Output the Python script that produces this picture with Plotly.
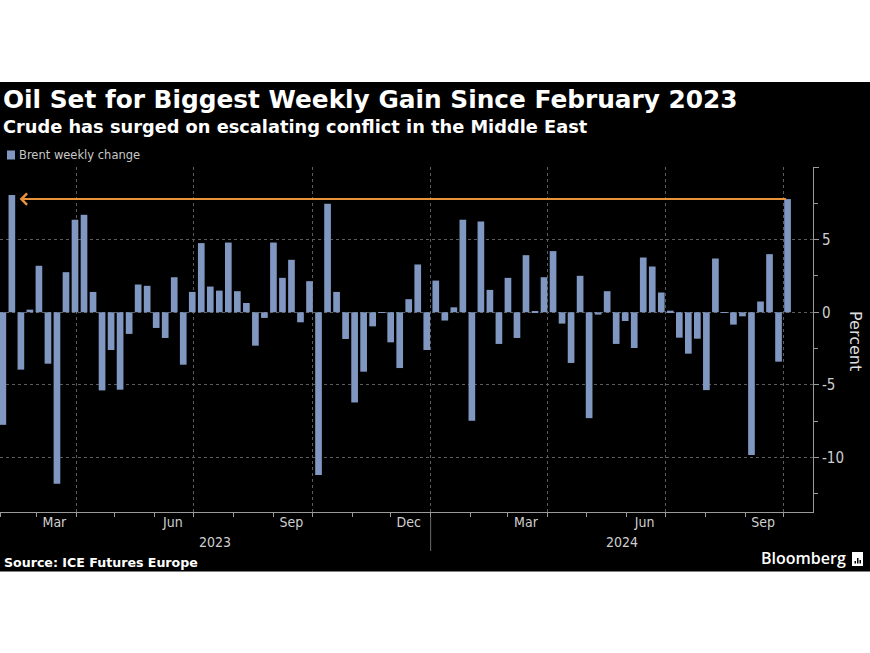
import pandas as pd
import plotly.graph_objects as go

# ---------------- data ----------------
first_week = "2023-02-03"  # week ending (Friday) of first bar
series_name = "Brent weekly change"
brent_weekly_change = [
    -7.75, 8.07, -3.95, 0.18, 3.20, -3.54, -11.80, 2.76, 6.37, 6.71,
    1.40, -5.38, -2.60, -5.33, -1.49, 1.91, 1.82, -1.08, -1.77, 2.41,
    -3.61, 1.40, 4.76, 1.77, 1.49, 4.80, 1.45, 0.64, -2.30, -0.39,
    4.80, 2.37, 3.61, -0.69, 2.14, -11.20, 7.47, 1.40, -1.84, -6.21,
    -4.09, -0.97, -0.05, -2.07, -3.84, 0.90, 3.29, -2.60, 2.18, -0.57,
    0.34, 6.37, -7.47, 6.25, 1.54, -2.18, 2.37, -1.77, 3.93, 0.07,
    2.41, 4.21, -0.78, -3.49, 2.51, -7.29, -0.16, 1.45, -2.18, -0.60,
    -2.46, 3.77, 3.15, 1.36, 0.11, -1.75, -2.85, -1.82, -5.36, 3.70,
    -0.05, -0.85, -0.28, -9.82, 0.74, 4.00, -3.40, 7.79,
]
weeks = pd.date_range(first_week, periods=len(brent_weekly_change), freq="7D")

x_range = ["2023-01-31 19:00", "2024-10-23 18:00"]
quarter_starts = ["2023-04-01", "2023-07-01", "2023-10-01", "2024-01-01",
                  "2024-04-01", "2024-07-01", "2024-10-01"]
month_label_dates = ["2023-03-15", "2023-06-15", "2023-09-15", "2023-12-15",
                     "2024-03-15", "2024-06-15", "2024-09-15"]
month_labels = ["Mar", "Jun", "Sep", "Dec", "Mar", "Jun", "Sep"]
year_labels = ["2023", "2024"]
year_break = "2024-01-01"
y_tickvals = [-10, -5, 0, 5, 10]
y_ticktext = ["-10", "-5", "0", "5", ""]
y_range = [-13.75, 10]

# ---------------- style ----------------
BAR = "#8098c1"
ORANGE = "#e8923a"
GRID = "#5c5c5c"
AXIS = "#9a9a9a"
TICKC = "#cfcfcf"
COND = "DejaVu Sans Condensed, DejaVu Sans, sans-serif"
SANS = "DejaVu Sans, Verdana, sans-serif"

PLOT_W = 813
PLOT_H = 345
TOP = 167


def py(pix):  # paper y from pixel row
    return (TOP + PLOT_H - pix) / PLOT_H


def px(pix):  # paper x from pixel column
    return pix / PLOT_W


fig = go.Figure()
fig.add_trace(go.Bar(
    x=weeks, y=brent_weekly_change, name=series_name,
    marker=dict(color=BAR, line=dict(width=0)),
    showlegend=False, hoverinfo="x+y",
))
# invisible helper so the overlaid label axis is drawn
fig.add_trace(go.Scatter(
    x=[weeks[0]], y=[brent_weekly_change[0]], xaxis="x2", yaxis="y",
    mode="markers", marker=dict(opacity=0), showlegend=False, hoverinfo="skip",
))

last_val = brent_weekly_change[-1]
fig.add_annotation(
    x=weeks[1] + pd.Timedelta(days=6), y=last_val,
    ax=weeks[-1], ay=last_val, axref="x", ayref="y",
    xref="x", yref="y", text="", showarrow=True,
    arrowhead=4, arrowsize=1.1, arrowwidth=2, arrowcolor=ORANGE,
    standoff=0, startstandoff=0,
)

# year labels centred on visible part of each year
r0 = pd.Timestamp(x_range[0]); r1 = pd.Timestamp(x_range[1]); yb = pd.Timestamp(year_break)
for lab, a, b in [(year_labels[0], r0, yb), (year_labels[1], yb, r1)]:
    fig.add_annotation(x=a + (b - a) / 2, y=py(542), xref="x", yref="paper",
                       yanchor="middle", text=lab, showarrow=False,
                       font=dict(family=COND, size=14, color=TICKC))
fig.add_shape(type="line", xref="x", yref="paper", x0=year_break, x1=year_break,
              y0=py(517), y1=py(551), line=dict(color="#6a6a6a", width=1))

# black panel
fig.add_shape(type="rect", xref="paper", yref="paper", x0=-0.02, x1=1.1,
              y0=py(571.5), y1=py(82), fillcolor="black", line=dict(width=0),
              layer="below")

# legend key (swatch + label)
fig.add_shape(type="rect", xref="paper", yref="paper", x0=px(7), x1=px(15),
              y0=py(159.5), y1=py(150.5), fillcolor=BAR, line=dict(width=0))
fig.add_annotation(xref="paper", yref="paper", x=px(17), y=py(155), xanchor="left",
                   yanchor="middle", showarrow=False, text=series_name,
                   font=dict(family=SANS, size=11.5, color="#c8c8c8"))

# titles
fig.add_annotation(xref="paper", yref="paper", x=px(1), y=py(99), xanchor="left",
                   yanchor="middle", showarrow=False,
                   text="<b>Oil Set for Biggest Weekly Gain Since February 2023</b>",
                   font=dict(family=SANS, size=24.8, color="white"))
fig.add_annotation(xref="paper", yref="paper", x=px(1), y=py(126), xanchor="left",
                   yanchor="middle", showarrow=False,
                   text="<b>Crude has surged on escalating conflict in the Middle East</b>",
                   font=dict(family=SANS, size=17.8, color="white"))
fig.add_annotation(xref="paper", yref="paper", x=px(2), y=py(562), xanchor="left",
                   yanchor="middle", showarrow=False,
                   text="<b>Source: ICE Futures Europe</b>",
                   font=dict(family=SANS, size=12.6, color="white"))
fig.add_annotation(xref="paper", yref="paper", x=px(848), y=py(558), xanchor="right",
                   yanchor="middle", showarrow=False, text="Bloomberg",
                   font=dict(family="Open Sans, sans-serif", size=16, color="white",
                             weight=600))
# small logo mark
fig.add_shape(type="rect", xref="paper", yref="paper", x0=px(852), x1=px(863),
              y0=py(566), y1=py(552), fillcolor="white", line=dict(width=0))
for bx0, btop in [(854.5, 561), (857, 558), (859.5, 560)]:
    fig.add_shape(type="rect", xref="paper", yref="paper", x0=px(bx0), x1=px(bx0 + 1.5),
                  y0=py(563.5), y1=py(btop), fillcolor="black", line=dict(width=0))
fig.add_annotation(xref="paper", yref="paper", x=px(856), y=py(341), xanchor="center",
                   yanchor="middle", showarrow=False, text="Percent", textangle=90,
                   font=dict(family=SANS, size=16, color="#dddddd"))

fig.update_layout(
    width=870, height=653,
    margin=dict(l=0, r=870 - PLOT_W, t=TOP, b=653 - TOP - PLOT_H, pad=0,
                autoexpand=False),
    paper_bgcolor="white", plot_bgcolor="black",
    bargap=0.26,
    showlegend=False,
    xaxis=dict(
        type="date", range=x_range,
        tickmode="array", tickvals=quarter_starts, showticklabels=False,
        showgrid=True, gridcolor=GRID, griddash="dot", gridwidth=1,
        ticks="outside", ticklen=4, tickcolor=AXIS,
        showline=True, linecolor=AXIS, linewidth=1, zeroline=False,
        minor=dict(tickmode="linear", tick0="2023-01-01", dtick="M1",
                   ticks="outside", ticklen=4, tickcolor=AXIS, showgrid=False),
    ),
    xaxis2=dict(
        type="date", range=x_range, overlaying="x", anchor="y", side="bottom",
        tickmode="array", tickvals=month_label_dates, ticktext=month_labels,
        showgrid=False, ticks="", showline=False, zeroline=False,
        tickfont=dict(family=COND, size=14, color=TICKC),
    ),
    yaxis=dict(
        side="right", range=y_range,
        tickmode="array", tickvals=y_tickvals, ticktext=y_ticktext,
        showgrid=True, gridcolor=GRID, griddash="dot", gridwidth=1,
        zeroline=False, showline=True, linecolor=AXIS, linewidth=1,
        ticks="outside", ticklen=5, tickcolor=AXIS,
        tickfont=dict(family=COND, size=15, color=TICKC),
        minor=dict(tickmode="linear", tick0=0, dtick=2.5, ticks="outside",
                   ticklen=4, tickcolor=AXIS, showgrid=False),
    ),
)

fig.write_html("out.html", config={"displayModeBar": False},
               post_script="document.body.style.margin='0';document.body.style.overflow='hidden';")
